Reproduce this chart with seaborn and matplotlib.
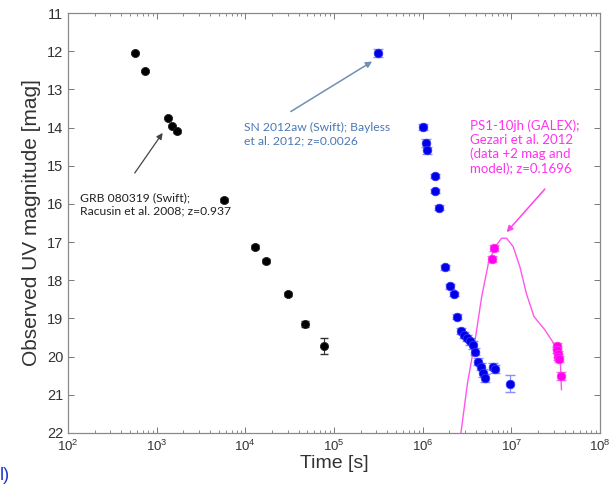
import numpy as np
import pandas as pd
import matplotlib
matplotlib.use("Agg")
import matplotlib.pyplot as plt
import seaborn as sns
from matplotlib.ticker import LogLocator, FixedLocator, NullFormatter, LogFormatterMathtext

# GRB 080319 (Swift) afterglow
grb_time = [566, 747, 1330, 1500, 1690, 5810, 12860, 17100, 30200, 47200, 77300]
grb_mag = [12.05, 12.52, 13.75, 13.95, 14.10, 15.90, 17.13, 17.49, 18.36, 19.14, 19.72]
grb_err = [0.03, 0.03, 0.03, 0.03, 0.03, 0.05, 0.05, 0.05, 0.06, 0.08, 0.20]

# SN 2012aw (Swift)
sn_time = [3.15e5, 1.01e6, 1.10e6, 1.12e6, 1.36e6, 1.39e6, 1.54e6, 1.79e6, 2.01e6,
           2.23e6, 2.43e6, 2.72e6, 2.89e6, 3.15e6, 3.44e6, 3.74e6, 3.91e6, 4.26e6,
           4.56e6, 4.84e6, 5.06e6, 6.28e6, 6.56e6, 9.66e6]
sn_mag = [12.04, 13.98, 14.40, 14.60, 15.27, 15.66, 16.10, 17.66, 18.16,
          18.36, 18.95, 19.32, 19.43, 19.52, 19.60, 19.69, 19.87, 20.13,
          20.26, 20.43, 20.56, 20.26, 20.33, 20.71]
sn_err = [0.10, 0.08, 0.10, 0.08, 0.06, 0.06, 0.06, 0.06, 0.06,
          0.06, 0.06, 0.08, 0.08, 0.08, 0.10, 0.10, 0.10, 0.10,
          0.10, 0.10, 0.10, 0.10, 0.10, 0.22]

# PS1-10jh (GALEX), data +2 mag
ps1_time = [6.44e6, 6.01e6, 3.24e7, 3.28e7, 3.32e7, 3.36e7, 3.42e7, 3.68e7]
ps1_mag = [17.16, 17.45, 19.72, 19.82, 19.92, 20.00, 20.06, 20.50]
ps1_err = [0.08, 0.08, 0.08, 0.08, 0.08, 0.08, 0.08, 0.10]

# PS1-10jh model light curve
model_time = [2.70e6, 3.20e6, 3.91e6, 4.63e6, 5.52e6, 6.56e6, 7.78e6, 8.85e6,
              1.05e7, 1.25e7, 1.48e7, 1.80e7, 2.39e7, 3.10e7, 3.55e7, 3.68e7]
model_mag = [22.0, 20.7, 19.56, 18.43, 17.55, 17.12, 16.90, 16.90,
             17.12, 17.65, 18.35, 18.95, 19.30, 19.70, 20.00, 20.87]

sns.set_theme(style="white")
plt.rcParams["font.family"] = ["Liberation Sans", "DejaVu Sans"]
plt.rcParams["mathtext.fontset"] = "custom"
plt.rcParams["mathtext.rm"] = "Liberation Sans"

fig = plt.figure(figsize=(6.09, 4.84), dpi=100)
ax = fig.add_axes([0.1117, 0.1054, 0.8735, 0.8677])

grb = pd.DataFrame({"time": grb_time, "mag": grb_mag, "err": grb_err})
sn = pd.DataFrame({"time": sn_time, "mag": sn_mag, "err": sn_err})
ps1 = pd.DataFrame({"time": ps1_time, "mag": ps1_mag, "err": ps1_err})
model = pd.DataFrame({"time": model_time, "mag": model_mag})

# model curve
sns.lineplot(data=model, x="time", y="mag", sort=False, color="#ff55ee",
             linewidth=1.0, ax=ax, zorder=2)

# error bars
ax.errorbar(grb["time"], grb["mag"], yerr=grb["err"], fmt="none",
            ecolor="#333333", elinewidth=0.8, capsize=3, zorder=3)
ax.errorbar(sn["time"], sn["mag"], yerr=sn["err"], fmt="none",
            ecolor="#8c8cff", elinewidth=0.9, capsize=3.5, zorder=3)
ax.errorbar(ps1["time"], ps1["mag"], yerr=ps1["err"], fmt="none",
            ecolor="#ff66ee", elinewidth=0.9, capsize=3.5, zorder=3)

# data points
sns.scatterplot(data=grb, x="time", y="mag", color="black", s=34,
                edgecolor="#222222", linewidth=0.6, ax=ax, zorder=4)
sns.scatterplot(data=sn, x="time", y="mag", color="#0000e6", s=38,
                edgecolor="#3333ff", linewidth=0.6, ax=ax, zorder=4)
sns.scatterplot(data=ps1, x="time", y="mag", color="#ff00f0", s=38,
                edgecolor="#ff33f0", linewidth=0.6, ax=ax, zorder=4)

ax.set_xscale("log")
ax.set_xlim(1e2, 1e8)
ax.set_ylim(22, 11)

ax.xaxis.set_major_locator(LogLocator(base=10, numticks=10))
ax.xaxis.set_minor_locator(LogLocator(base=10, subs=np.arange(2, 10), numticks=100))
ax.xaxis.set_minor_formatter(NullFormatter())
ax.xaxis.set_major_formatter(LogFormatterMathtext())
ax.yaxis.set_major_locator(FixedLocator(np.arange(11, 23, 1)))

ax.tick_params(axis="both", which="both", direction="in", bottom=True, left=True,
               top=True, right=True, colors="#777777", labelcolor="#333333")
ax.tick_params(axis="y", which="major", length=4, width=0.7, labelsize=10.5)
ax.tick_params(axis="x", which="major", length=4, width=0.7, labelsize=9.5, pad=4)
ax.tick_params(axis="x", which="minor", length=2.5, width=0.6)
ax.tick_params(axis="y", which="minor", left=False, right=False)
for s in ax.spines.values():
    s.set_color("#8a8a8a")
    s.set_linewidth(0.9)

ax.set_xlabel("Time [s]", fontsize=14, color="#333333", labelpad=1)
ax.set_ylabel("Observed UV magnitude [mag]", fontsize=15, color="#333333", labelpad=4)

# annotations
ax.annotate("", xy=(1167, 14.14), xytext=(566, 15.19),
            arrowprops=dict(arrowstyle="-|>", color="#444444", lw=0.9,
                            mutation_scale=9, shrinkA=0, shrinkB=0))
ax.text(136, 15.70, "GRB 080319 (Swift);\nRacusin et al. 2008; z=0.937",
        fontsize=8.7, color="#222222", va="top", ha="left", linespacing=1.25,
        family=["Lato", "DejaVu Sans"])

ax.annotate("", xy=(2.69e5, 12.27), xytext=(3.26e4, 13.58),
            arrowprops=dict(arrowstyle="-|>", color="#6f8fb5", lw=1.1,
                            mutation_scale=9, shrinkA=0, shrinkB=0))
ax.text(9750, 13.85, "SN 2012aw (Swift); Bayless\net al. 2012; z=0.0026",
        fontsize=8.7, color="#4a78b4", va="top", ha="left", linespacing=1.3,
        family=["Lato", "DejaVu Sans"])

ax.annotate("", xy=(8.85e6, 16.74), xytext=(2.39e7, 15.61),
            arrowprops=dict(arrowstyle="-|>", color="#ff44ee", lw=1.1,
                            mutation_scale=9, shrinkA=0, shrinkB=0))
ax.text(3.44e6, 13.78, "PS1-10jh (GALEX);\nGezari et al. 2012\n(data +2 mag and\nmodel); z=0.1696",
        fontsize=9.5, color="#ff33ee", va="top", ha="left", linespacing=1.2,
        family=["Lato", "DejaVu Sans"])

fig.text(0.0, 0.0, "l)", fontsize=13, color="#2233cc", ha="left", va="bottom")

fig.savefig("out.png", dpi=100, facecolor="white")
